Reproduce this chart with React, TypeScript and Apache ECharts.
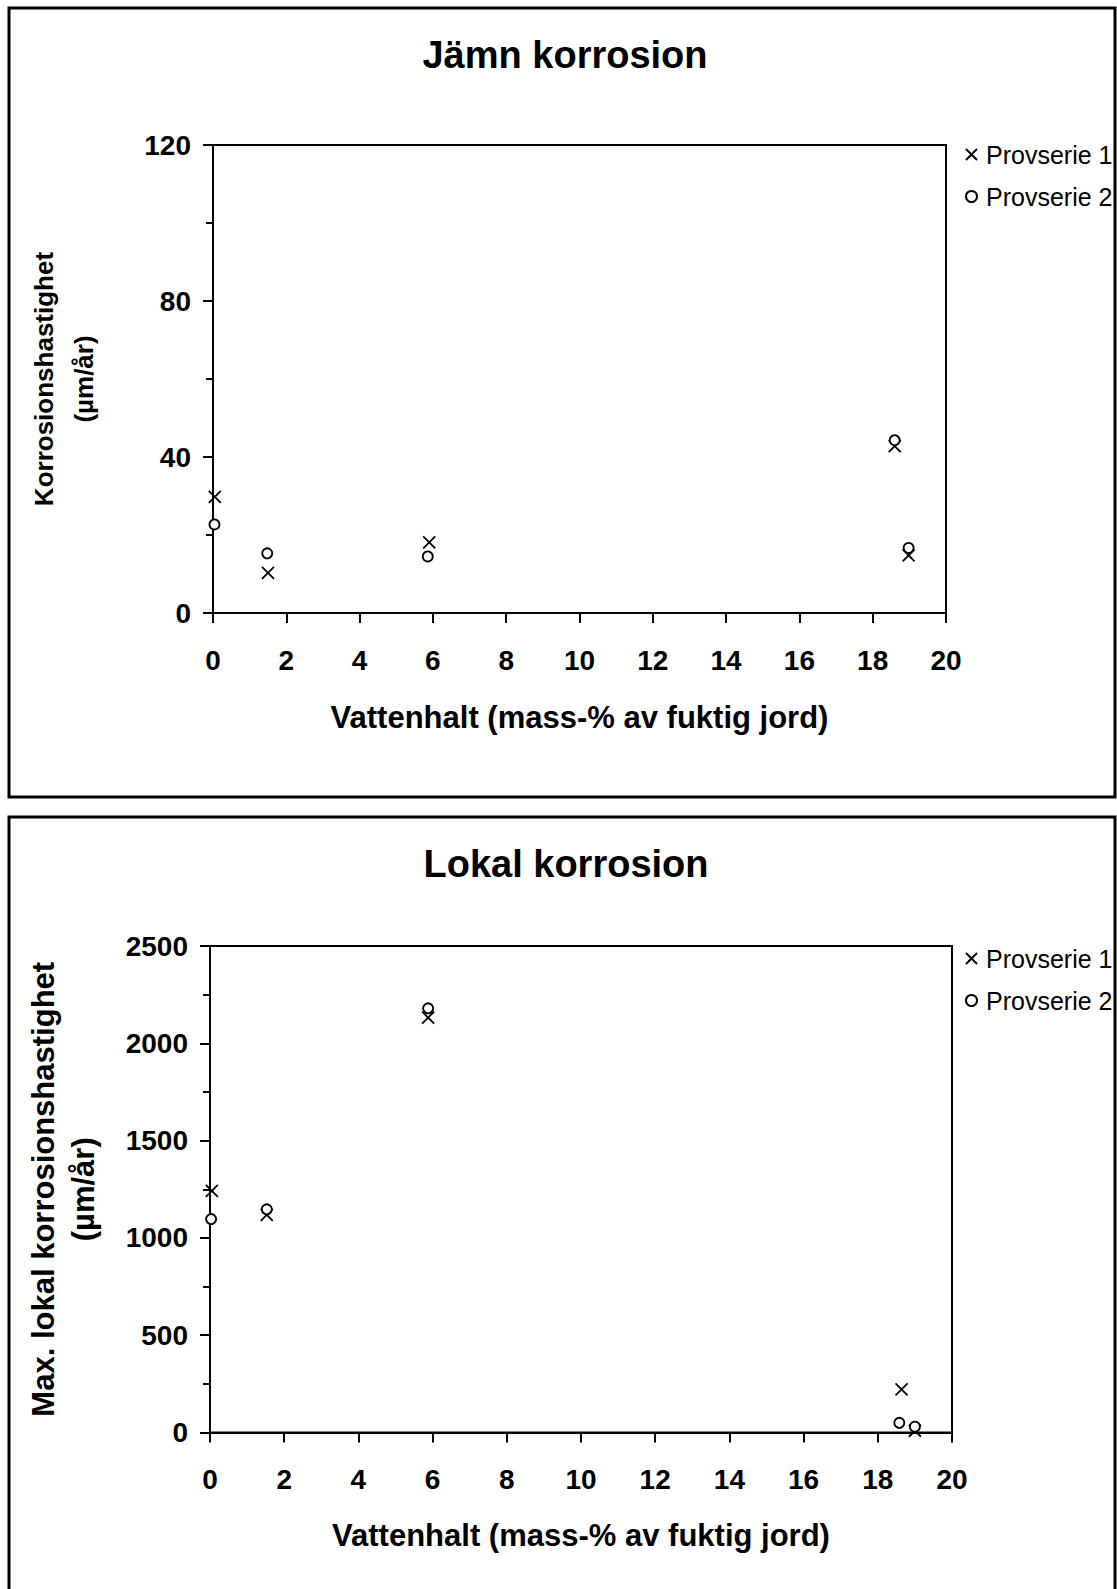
import React, { useEffect, useRef } from "react";
import * as echarts from "echarts";

// Jämn korrosion (µm/år) vs Vattenhalt
const jamnX1 = [0.05, 1.5, 5.9, 18.6, 18.98];
const jamnY1 = [29.8, 10.3, 18.1, 42.8, 14.8];
const jamnX2 = [0.04, 1.48, 5.86, 18.6, 18.98];
const jamnY2 = [22.7, 15.3, 14.5, 44.3, 16.7];

// Lokal korrosion (µm/år) vs Vattenhalt
const lokalX1 = [0.05, 1.53, 5.88, 18.64, 19.0];
const lokalY1 = [1242, 1118, 2132, 222, 9];
const lokalX2 = [0.03, 1.53, 5.88, 18.58, 19.0];
const lokalY2 = [1097, 1147, 2180, 50, 30];

const seriesNames = ["Provserie 1", "Provserie 2"];
const titles = ["Jämn korrosion", "Lokal korrosion"];
const xName = "Vattenhalt (mass-% av fuktig jord)";
const yNames = ["Korrosionshastighet\n(µm/år)", "Max. lokal korrosionshastighet\n(µm/år)"];

const FONT = "'Liberation Sans', Arial, Helvetica, sans-serif";
const CROSS = "path://M0,0L10,10M10,0L0,10";

const zip = (xs: number[], ys: number[]) => xs.map((x, i) => [x, ys[i]]);

export default function App() {
  const ref = useRef<HTMLDivElement>(null);
  useEffect(() => {
    if (!ref.current) return;
    const chart = echarts.init(ref.current, undefined, { renderer: "svg" });

    const xAxisBase = (gridIndex: number, nameGap: number) => ({
      type: "value",
      gridIndex,
      min: 0,
      max: 20,
      interval: 2,
      name: xName,
      nameLocation: "middle",
      nameGap,
      nameTextStyle: { fontFamily: FONT, fontWeight: "bold", fontSize: 31, color: "#000", lineHeight: 31 },
      axisLine: { show: true, lineStyle: { color: "#000", width: 2 } },
      axisTick: { show: true, inside: false, length: 10, lineStyle: { color: "#000", width: 2 } },
      axisLabel: { fontFamily: FONT, fontWeight: "bold", fontSize: 28, color: "#000", margin: 33 },
      splitLine: { show: false },
    });

    const yAxisBase = (
      gridIndex: number,
      max: number,
      interval: number,
      name: string,
      nameGap: number,
      nameSize: number
    ) => ({
      type: "value",
      gridIndex,
      min: 0,
      max,
      interval,
      name,
      nameLocation: "middle",
      nameRotate: 90,
      nameGap,
      nameTextStyle: { fontFamily: FONT, fontWeight: "bold", fontSize: nameSize, color: "#000", lineHeight: 40 },
      axisLine: { show: true, lineStyle: { color: "#000", width: 2 } },
      axisTick: { show: true, inside: false, length: 10, lineStyle: { color: "#000", width: 2 } },
      minorTick: { show: true, splitNumber: 2, length: 7, lineStyle: { color: "#000", width: 2 } },
      axisLabel: {
        fontFamily: FONT,
        fontWeight: "bold",
        fontSize: 28,
        color: "#000",
        margin: 22,
        formatter: (v: number) => String(v),
      },
      splitLine: { show: false },
      minorSplitLine: { show: false },
    });

    const scatter = (name: string, idx: number, data: number[][], cross: boolean) => ({
      type: "scatter",
      name,
      xAxisIndex: idx,
      yAxisIndex: idx,
      data,
      symbol: cross ? CROSS : "circle",
      symbolSize: cross ? 12 : 10,
      itemStyle: { color: cross ? "transparent" : "#fff", borderColor: "#000", borderWidth: 1.8, opacity: 1 },
      emphasis: { disabled: true },
      z: cross ? 3 : 4,
    });

    const legendBase = (top: number) => ({
      orient: "vertical",
      left: 960,
      top,
      itemWidth: 11,
      itemHeight: 11,
      itemGap: 17,
      data: seriesNames,
      selectedMode: false,
      textStyle: { fontFamily: FONT, fontSize: 25, color: "#000", lineHeight: 24, padding: [0, 0, 0, 4] },
    });

    chart.setOption({
      animation: false,
      backgroundColor: "#fff",
      graphic: [
        {
          type: "rect",
          shape: { x: 9, y: 8, width: 1106, height: 789 },
          style: { fill: "none", stroke: "#000", lineWidth: 3 },
          silent: true,
        },
        {
          type: "rect",
          shape: { x: 9, y: 817, width: 1106, height: 800 },
          style: { fill: "none", stroke: "#000", lineWidth: 3 },
          silent: true,
        },
      ],
      title: [
        {
          text: titles[0],
          left: 560,
          top: 31,
          textAlign: "center",
          textStyle: { fontFamily: FONT, fontWeight: "bold", fontSize: 38, color: "#000" },
        },
        {
          text: titles[1],
          left: 561,
          top: 840,
          textAlign: "center",
          textStyle: { fontFamily: FONT, fontWeight: "bold", fontSize: 38, color: "#000" },
        },
      ],
      legend: [legendBase(137), legendBase(941)],
      grid: [
        { left: 213, top: 145, width: 733, height: 468, show: true, borderColor: "#000", borderWidth: 2, backgroundColor: "transparent" },
        { left: 210, top: 946, width: 742, height: 486.5, show: true, borderColor: "#000", borderWidth: 2, backgroundColor: "transparent" },
      ],
      xAxis: [xAxisBase(0, 89), xAxisBase(1, 87)],
      yAxis: [
        yAxisBase(0, 120, 40, yNames[0], 109, 26),
        yAxisBase(1, 2500, 500, yNames[1], 107, 31),
      ],
      series: [
        scatter(seriesNames[0], 0, zip(jamnX1, jamnY1), true),
        scatter(seriesNames[1], 0, zip(jamnX2, jamnY2), false),
        scatter(seriesNames[0], 1, zip(lokalX1, lokalY1), true),
        scatter(seriesNames[1], 1, zip(lokalX2, lokalY2), false),
      ],
    });
    return () => chart.dispose();
  }, []);
  return (
    <div
      ref={ref}
      style={{ position: "absolute", left: 0, top: 0, width: 1117, height: 1589, background: "#fff" }}
    />
  );
}
